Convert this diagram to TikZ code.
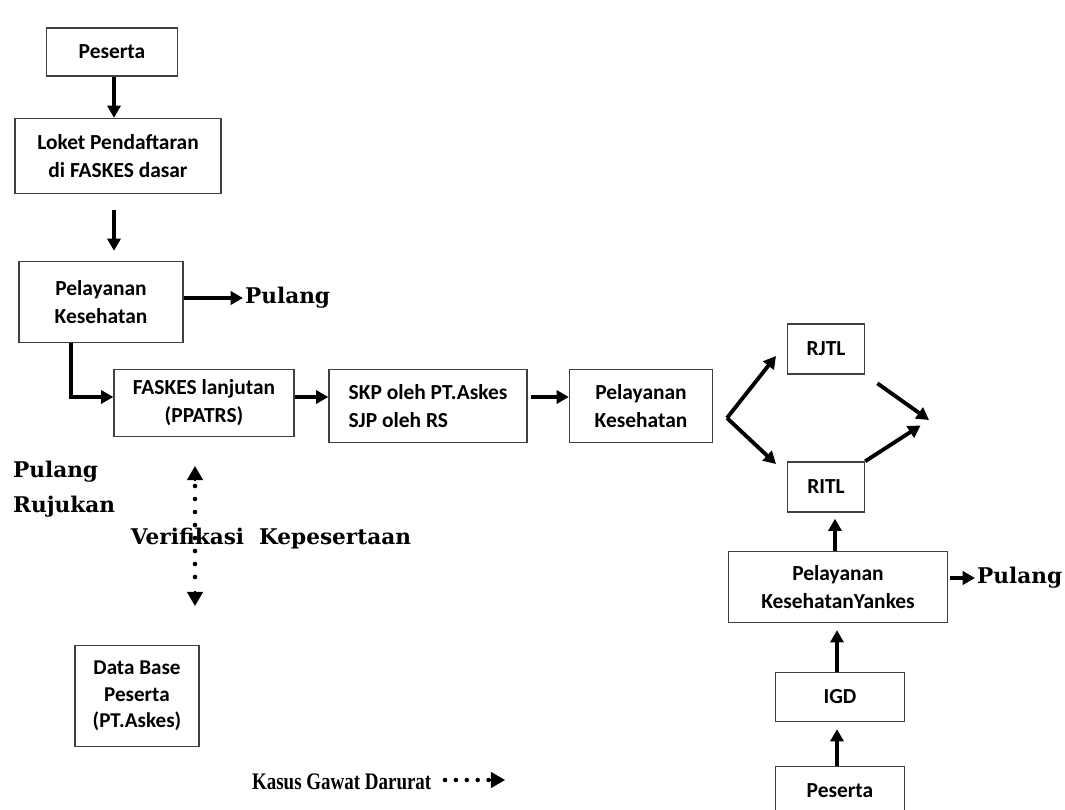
\documentclass[tikz,border=0pt]{standalone}
\usepackage{fontspec}
\setmainfont{DejaVu Serif}
\newfontfamily\boxfont{Carlito}
\newfontfamily\narrowfont[FakeStretch=0.8]{Liberation Serif}
\usetikzlibrary{positioning,calc,arrows.meta}

\tikzset{
  box/.style={draw=black!75, line width=0.8pt, align=center, inner sep=2pt,
    font=\boxfont\bfseries\fontsize{12.2}{16}\selectfont},
  flow/.style={line width=2.2pt, -{Triangle[length=7pt,width=7.5pt]}},
  dots/.style={line width=2.6pt, line cap=round, dash pattern=on 0pt off 7pt},
  tip/.style={line width=1pt, -{Triangle[length=8pt,width=9pt]}},
  lbl/.style={font=\bfseries\fontsize{12.3}{20}\selectfont, inner sep=1pt}
}

\begin{document}
\begin{tikzpicture}[x=0.02cm, y=-0.02cm]
    \useasboundingbox (0,0) rectangle (1065,810);

    % Fasilitas dasar
    \node[box, minimum width=2.62cm, minimum height=0.96cm] (peserta) at (112,52) {Peserta};
    \node[box, minimum width=4.12cm, minimum height=1.5cm] (loket) at (118,156) {Loket Pendaftaran\\di FASKES dasar};
    \node[box, minimum width=3.28cm, minimum height=1.62cm] (yankesA) at (101,302) {Pelayanan\\Kesehatan};
    \node[lbl, anchor=west] (pulangA) at (243,298) {Pulang};

    \draw[flow] ([xshift=0.04cm]peserta.south) -- ([xshift=0.04cm]peserta.south |- loket.north);
    \draw[flow, shorten <=0.32cm, shorten >=0.2cm] ([xshift=-0.08cm]loket.south) -- ([xshift=-0.08cm]loket.south |- yankesA.north);
    \draw[flow] (yankesA.east |- pulangA) -- (pulangA.west);

    % Rujukan
    \node[box, minimum width=3.6cm, minimum height=1.34cm] (lanjut) at (204,403) {FASKES lanjutan\\(PPATRS)};
    \node[box, minimum width=3.96cm, minimum height=1.46cm, align=left] (skp) at (428,406) {SKP oleh PT.Askes\\SJP oleh RS};
    \node[box, minimum width=2.86cm, minimum height=1.46cm] (yankesB) at (641,406) {Pelayanan\\Kesehatan};

    \draw[flow] ([xshift=-0.6cm]yankesA.south) |- ([yshift=0.12cm]lanjut.west);
    \draw[flow] ([yshift=0.12cm]lanjut.east) -- ([yshift=0.12cm]lanjut.east -| skp.west);
    \draw[flow, shorten <=0.06cm] ([yshift=0.18cm]skp.east) -- ([yshift=0.18cm]skp.east -| yankesB.west);

    \node[lbl, anchor=west, align=left] (rujukan) at (11,489) {Pulang\\Rujukan};

    % Rawat jalan / rawat inap
    \node[box, minimum width=1.54cm, minimum height=1cm] (rjtl) at (826,349) {RJTL};
    \node[box, minimum width=1.54cm, minimum height=1cm] (ritl) at (826,487) {RITL};
    \coordinate (fork) at (727,418);
    \coordinate (toRJ) at (776,356);
    \coordinate (toRI) at (776,464);
    \coordinate (join) at (929,420);

    \draw[flow] (fork) -- (toRJ);
    \draw[flow] (fork) -- (toRI);
    \draw[flow, shorten <=0.3cm] (rjtl.south east) -- (join);
    \draw[flow, shorten >=0.2cm] (ritl.north east) -- (join);

    % Gawat darurat
    \node[box, minimum width=4.38cm, minimum height=1.42cm] (yankesC) at (838,587) {Pelayanan\\KesehatanYankes};
    \node[lbl, anchor=west] (pulangC) at (975,578) {Pulang};
    \node[box, minimum width=2.58cm, minimum height=0.98cm] (igd) at (840,697) {IGD};
    \node[box, minimum width=2.58cm, minimum height=0.98cm] (pesertaB) at (840,791) {Peserta};

    \draw[flow, shorten >=0.12cm] ([xshift=-0.06cm]yankesC.north) -- ([xshift=-0.06cm]yankesC.north |- ritl.south);
    \draw[flow, shorten <=0.04cm] (yankesC.east |- pulangC) -- (pulangC.west);
    \draw[flow, shorten >=0.14cm] ([xshift=-0.06cm]igd.north) -- ([xshift=-0.06cm]igd.north |- yankesC.south);
    \draw[flow, shorten >=0.14cm] ([xshift=-0.06cm]pesertaB.north) -- ([xshift=-0.06cm]pesertaB.north |- igd.south);

    \node[font=\narrowfont\bfseries\fontsize{13.5}{16}\selectfont, anchor=west, inner sep=1pt] (kasus) at (250,782) {Kasus Gawat Darurat};
    \coordinate (kasusEnd) at (505,780);
    \draw[dots, dash pattern=on 0pt off 6.2pt] ([xshift=-1.2cm]kasusEnd) -- ([xshift=-0.24cm]kasusEnd);
    \draw[tip] ([xshift=-0.3cm]kasusEnd) -- (kasusEnd);

    % Verifikasi
    \node[box, minimum width=2.48cm, minimum height=2.02cm, font=\boxfont\bfseries\fontsize{12}{15}\selectfont] (db) at (137,696) {Data Base\\Peserta\\(PT.Askes)};
    \node[lbl] (verif) at (271,539) {Verifikasi\ \ Kepesertaan};
    \coordinate (vtop) at (195,466);
    \coordinate (vbot) at (195,606);
    \draw[dots, dash pattern=on 0pt off 7.4pt] ([yshift=-0.4cm]vtop) -- ([yshift=0.4cm]vbot);
    \draw[tip] ([yshift=-0.3cm]vtop) -- (vtop);
    \draw[tip] ([yshift=0.3cm]vbot) -- (vbot);
\end{tikzpicture}
\end{document}
